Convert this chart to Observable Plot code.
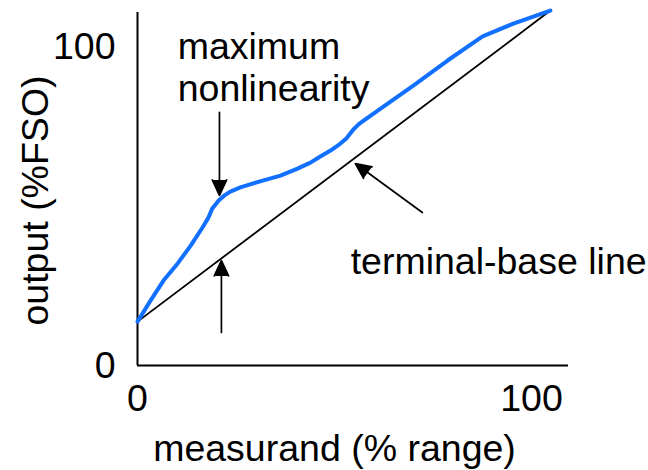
<!DOCTYPE html>
<html>
<head>
<meta charset="utf-8">
<script src="https://cdn.jsdelivr.net/npm/d3@7"></script>
<script src="https://cdn.jsdelivr.net/npm/@observablehq/plot@0.6"></script>
<style>
  body { margin: 0; background: #fff; }
  #chart svg { display: block; }
</style>
</head>
<body>
<div id="chart"></div>
<script>
// Sensor response curve (output vs measurand) and its terminal-base line
const measurand = [0, 3.3, 6.6, 10.2, 13.5, 16.5, 18.0, 19.0, 20.6, 22.1, 23.6, 26.1, 29.2, 32.0, 36.3, 40.6, 43.9, 46.4, 49.0, 51.5, 53.0, 54.8, 56.1, 57.4, 61.7, 70.1, 78.7, 87.6, 95.4, 104.8];
const output    = [13.8, 20.4, 26.7, 32.1, 37.7, 43.4, 46.5, 49.4, 51.9, 53.5, 54.7, 56.0, 57.2, 58.2, 59.7, 61.9, 63.8, 65.7, 67.6, 69.8, 71.4, 74.2, 75.8, 77.0, 80.8, 88.1, 95.9, 103.5, 107.5, 111.6];

// Straight line joining the two end points of the response
const terminalX = [0, 104.8];
const terminalY = [13.8, 111.6];

// Axis ticks and titles
const tickValues = [0, 100];
const xTitle = "measurand (% range)";
const yTitle = "output (%FSO)";

// Annotations
const noteText = ["maximum\nnonlinearity", "terminal-base line"];
const noteX = [10.2, 54.1];
const noteY = [105.8, 38.2];

const arrowX1 = [20.8, 21.3, 72.3];
const arrowY1 = [79.6, 10.4, 48.1];
const arrowX2 = [20.8, 21.3, 55.3];
const arrowY2 = [53.5, 33.0, 63.5];

const curve = measurand.map((x, i) => ({x, y: output[i]}));
const terminal = terminalX.map((x, i) => ({x, y: terminalY[i]}));
const notes = noteText.map((text, i) => ({text, x: noteX[i], y: noteY[i]}));
const arrows = arrowX1.map((x1, i) => ({x1, y1: arrowY1[i], x2: arrowX2[i], y2: arrowY2[i]}));

const font = "'Liberation Sans', Arial, Helvetica, sans-serif";
const size = 37.5;

const chart = Plot.plot({
  width: 648,
  height: 470,
  marginLeft: 137,
  marginRight: 80,
  marginTop: 12,
  marginBottom: 105,
  style: { fontFamily: font, fontSize: size + "px", color: "#000", background: "#fff", overflow: "visible" },
  x: { domain: [0, 109.4], ticks: tickValues, tickSize: 0, tickPadding: 19, label: null },
  y: { domain: [0, 111], ticks: tickValues, tickSize: 0, tickPadding: 22, label: null },
  marks: [
    Plot.ruleX([0], { stroke: "#000", strokeWidth: 2 }),
    Plot.ruleY([0], { stroke: "#000", strokeWidth: 2 }),
    Plot.line(terminal, { x: "x", y: "y", stroke: "#000", strokeWidth: 1.8 }),
    Plot.line(curve, { x: "x", y: "y", stroke: "#1170ff", strokeWidth: 4, strokeLinejoin: "round", strokeLinecap: "round" }),
    Plot.arrow(arrows, {
      x1: "x1", y1: "y1", x2: "x2", y2: "y2",
      stroke: "#000", fill: "#000", strokeWidth: 1.7,
      headLength: 15, headAngle: 50
    }),
    Plot.text(notes, {
      x: "x", y: "y", text: "text",
      textAnchor: "start", lineAnchor: "top", lineHeight: 1.12,
      fontSize: size, fill: "#000"
    }),
    Plot.text([xTitle], {
      frameAnchor: "bottom", dx: -18.5, dy: 83.5,
      lineAnchor: "middle", textAnchor: "middle", fontSize: size, fill: "#000"
    }),
    Plot.text([yTitle], {
      frameAnchor: "left", dx: -101.5, dy: 11.5, rotate: -90,
      lineAnchor: "middle", textAnchor: "middle", fontSize: size, fill: "#000"
    })
  ]
});

document.getElementById("chart").appendChild(chart);
</script>
</body>
</html>
